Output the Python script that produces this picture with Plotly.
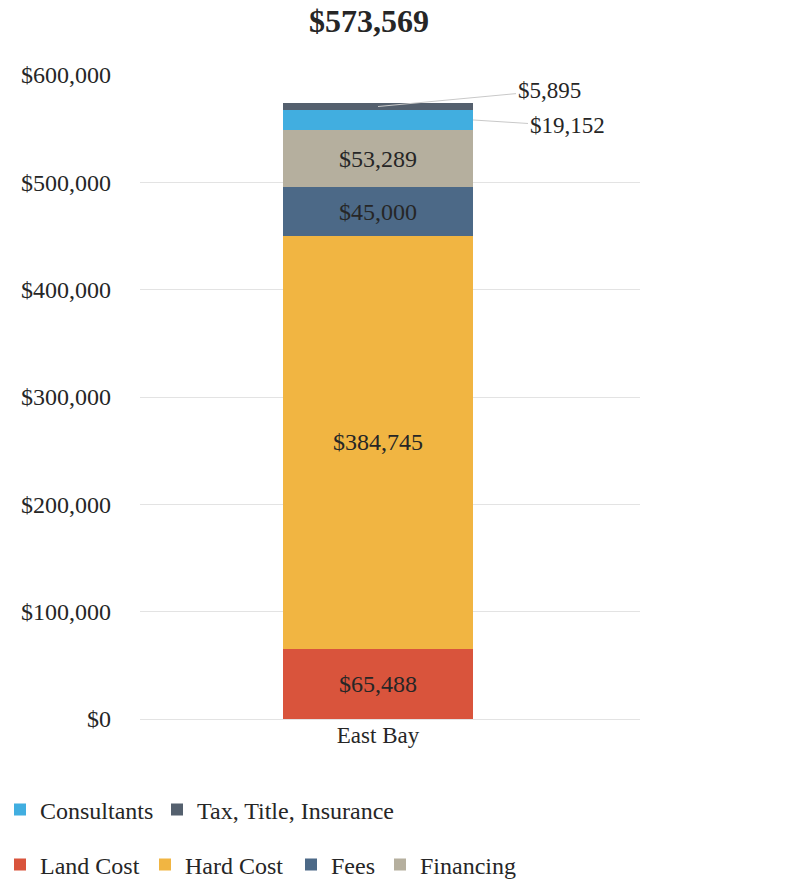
import plotly.graph_objects as go

categories = ["East Bay"]
series_names = ["Land Cost", "Hard Cost", "Fees", "Financing", "Consultants", "Tax, Title, Insurance"]
series_values = [65488, 384745, 45000, 53289, 19152, 5895]
series_colors = ["#D9543C", "#F1B542", "#4C6987", "#B5AF9E", "#41AEE0", "#54606E"]
series_legend = ["legend2", "legend2", "legend2", "legend2", "legend", "legend"]
legend_widths = [100, 101, 44, 100, 112, 200]
inside_label = [True, True, True, True, False, False]
y_ticks = [0, 100000, 200000, 300000, 400000, 500000, 600000]
y_tick_labels = ["$0", "$100,000", "$200,000", "$300,000", "$400,000", "$500,000", "$600,000"]

FONT = "Liberation Serif, Times New Roman, serif"
TXT = "#262626"

fig = go.Figure()
for name, val, col, lg, lw, inl in zip(series_names, series_values, series_colors,
                                       series_legend, legend_widths, inside_label):
    fig.add_trace(go.Bar(
        x=categories, y=[val], name=name, marker=dict(color=col, line=dict(width=0)),
        width=0.38, legend=lg, legendwidth=lw,
        text=[f"${val:,}"] if inl else None,
        textposition="inside" if inl else "none",
        insidetextanchor="middle", textangle=0,
        insidetextfont=dict(family=FONT, size=24, color=TXT),
        hoverinfo="name+y",
    ))

total = sum(series_values)
# callouts for thin segments
tax_mid = total - series_values[5] / 2
cons_mid = total - series_values[5] - series_values[4] / 2
fig.add_annotation(x=0, y=tax_mid, xref="x", yref="y", text=f"${series_values[5]:,}",
                   showarrow=True, arrowhead=0, arrowwidth=1, arrowcolor="#c9c9c9",
                   ax=171, ay=-16, standoff=0, font=dict(family=FONT, size=23, color=TXT))
fig.add_annotation(x=0.19, y=cons_mid, xref="x", yref="y", text=f"${series_values[4]:,}",
                   showarrow=True, arrowhead=0, arrowwidth=1, arrowcolor="#c9c9c9",
                   ax=94, ay=6, standoff=0, font=dict(family=FONT, size=23, color=TXT))

fig.update_layout(
    width=802, height=884,
    font=dict(family=FONT, color=TXT),
    margin=dict(l=140, r=162, t=75, b=165, autoexpand=False),
    paper_bgcolor="white", plot_bgcolor="white",
    barmode="stack",
    title=dict(text=f"<b>${total:,}</b>", x=369/802, xanchor="center", y=1 - 21/884, yanchor="middle",
               font=dict(family=FONT, size=32, color=TXT)),
    xaxis=dict(type="category", range=[-0.476, 0.524], showgrid=False, showline=False,
               ticks="", tickfont=dict(family=FONT, size=23, color=TXT)),
    yaxis=dict(range=[0, 600000], tickvals=y_ticks, ticktext=y_tick_labels,
               showgrid=True, gridcolor="#e3e3e3", gridwidth=1, zeroline=True,
               zerolinecolor="#e3e3e3", zerolinewidth=1, showline=False, ticks="",
               ticklabelstandoff=28,
               tickfont=dict(family=FONT, size=24, color=TXT)),
    legend=dict(orientation="h", x=-0.28, xanchor="left", y=(719 - 810) / 644, yanchor="middle",
                font=dict(family=FONT, size=24, color=TXT), traceorder="normal",
                bgcolor="rgba(0,0,0,0)"),
    legend2=dict(orientation="h", x=-0.28, xanchor="left", y=(719 - 865) / 644, yanchor="middle",
                 font=dict(family=FONT, size=24, color=TXT), traceorder="normal",
                 bgcolor="rgba(0,0,0,0)"),
    showlegend=True,
)

fig.write_html("out.html")
